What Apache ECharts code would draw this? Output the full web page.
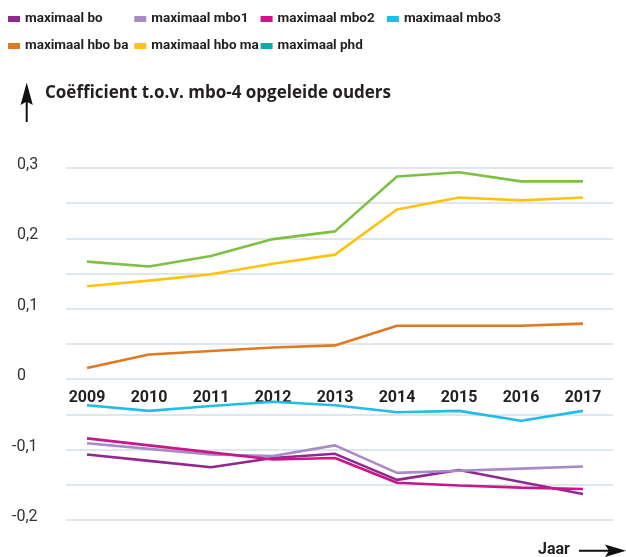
<!DOCTYPE html>
<html>
<head>
<meta charset="utf-8">
<script src="https://cdn.jsdelivr.net/npm/echarts@6/dist/echarts.min.js"></script>
<style>
  html, body { margin: 0; padding: 0; background: #fff; }
  #chart { width: 626px; height: 557px; }
</style>
</head>
<body>
<div id="chart"></div>
<script>
// jaren op de x-as
const years = ["2009", "2010", "2011", "2012", "2013", "2014", "2015", "2016", "2017"];

const maxBo = [-0.107, -0.116, -0.125, -0.112, -0.106, -0.143, -0.129, -0.146, -0.163];
const maxMbo1 = [-0.091, -0.099, -0.107, -0.109, -0.094, -0.133, -0.130, -0.127, -0.124];
const maxMbo2 = [-0.084, -0.094, -0.104, -0.114, -0.112, -0.147, -0.151, -0.154, -0.156];
const maxMbo3 = [-0.037, -0.045, -0.038, -0.032, -0.037, -0.047, -0.045, -0.059, -0.045];
const maxHboBa = [0.016, 0.035, 0.040, 0.045, 0.048, 0.076, 0.076, 0.076, 0.079];
const maxHboMa = [0.132, 0.140, 0.149, 0.164, 0.177, 0.241, 0.258, 0.254, 0.258];
const maxPhd = [0.167, 0.160, 0.175, 0.199, 0.210, 0.288, 0.294, 0.281, 0.281];

const yMin = -0.2;
const yMax = 0.3;

const font = "Roboto, 'Noto Sans', sans-serif";
const wideFont = "'Open Sans', Roboto, sans-serif";
const textColor = "#231f20";

const chart = echarts.init(document.getElementById("chart"));

// naam, data, kleur legenda, kleur lijn
const lines = [
  ["maximaal bo", maxBo, "#92278f", "#92278f"],
  ["maximaal mbo1", maxMbo1, "#a78bc5", "#a78bc5"],
  ["maximaal mbo2", maxMbo2, "#c8168c", "#c8168c"],
  ["maximaal mbo3", maxMbo3, "#22bde6", "#22bde6"],
  ["maximaal hbo ba", maxHboBa, "#e07a22", "#e07a22"],
  ["maximaal hbo ma", maxHboMa, "#ffc20e", "#ffc20e"],
  ["maximaal phd", maxPhd, "#12a9a8", "#7dc142"],
];

const series = lines.map(function (l) {
  return {
    name: l[0],
    type: "line",
    xAxisIndex: 1,
    yAxisIndex: 1,
    symbol: "none",
    smooth: false,
    itemStyle: { color: l[2] },
    lineStyle: { color: l[3], width: 2.6 },
    data: l[1],
  };
});

// legenda in vaste kolommen van ~126px, 4 per rij
const legends = lines.map(function (l, i) {
  return {
    left: 8 + (i % 4) * 126.3,
    top: i < 4 ? 9 : 36,
    padding: 0,
    itemWidth: 12,
    itemHeight: 6,
    icon: "rect",
    selectedMode: false,
    textStyle: {
      fontFamily: font,
      fontWeight: "bold",
      fontSize: 13.5,
      lineHeight: 20,
      color: textColor,
    },
    data: [l[0]],
  };
});

function yLabel(v) {
  if (Math.abs(v * 10 - Math.round(v * 10)) > 1e-6) return "";
  const t = v === 0 ? "0" : v.toFixed(1).replace(".", ",");
  return v < 0 ? "{v|" + t + "}" : "{p|}{v|" + t + "}";
}

chart.setOption({
  animation: false,
  legend: legends,
  grid: [
    // raster voor de hulplijnen
    { left: 66, right: 13, top: 168, bottom: 37 },
    // raster voor de lijnen
    { left: 87, right: 43, top: 168, bottom: 37 },
  ],
  xAxis: [
    {
      gridIndex: 0,
      type: "value",
      min: 0,
      max: 1,
      show: false,
    },
    {
      gridIndex: 1,
      type: "category",
      boundaryGap: false,
      data: years,
      position: "bottom",
      offset: -140.8, // as op hoogte van 0
      axisLine: { show: false, onZero: false },
      axisTick: { show: false },
      splitLine: { show: false },
      axisLabel: {
        margin: 11,
        fontFamily: font,
        fontWeight: "bold",
        fontSize: 16,
        color: textColor,
      },
    },
  ],
  yAxis: [
    {
      gridIndex: 0,
      type: "value",
      min: yMin,
      max: yMax,
      interval: 0.05,
      axisLine: { show: false },
      axisTick: { show: false },
      splitLine: { show: true, lineStyle: { color: "#dfe7ec", width: 2 } },
      axisLabel: {
        align: "left",
        margin: 54,
        padding: [0, 0, 6, 0],
        formatter: yLabel,
        rich: {
          p: { width: 5 },
          v: { fontFamily: font, fontSize: 16, color: "#333" },
        },
      },
    },
    {
      gridIndex: 1,
      type: "value",
      min: yMin,
      max: yMax,
      show: false,
      splitLine: { show: false },
    },
  ],
  graphic: [
    // pijl y-as
    { type: "line", shape: { x1: 26.7, y1: 100, x2: 26.7, y2: 122 }, style: { stroke: "#111", lineWidth: 2 } },
    {
      type: "polygon",
      shape: { points: [[26.7, 82.5], [32.8, 105], [26.7, 101.5], [20.6, 105]] },
      style: { fill: "#111" },
    },
    {
      type: "text",
      style: {
        x: 45,
        y: 93.5,
        verticalAlign: "middle",
        text: "Coëfficient t.o.v. mbo-4 opgeleide ouders",
        font: "bold 17px " + wideFont,
        fill: textColor,
      },
    },
    // pijl x-as
    {
      type: "text",
      style: {
        x: 538,
        y: 550,
        verticalAlign: "middle",
        text: "Jaar",
        font: "bold 16px " + font,
        fill: textColor,
      },
    },
    { type: "line", shape: { x1: 579, y1: 550.7, x2: 612, y2: 550.7 }, style: { stroke: "#111", lineWidth: 2 } },
    {
      type: "polygon",
      shape: { points: [[626, 550.7], [605, 544.5], [609, 550.7], [605, 557]] },
      style: { fill: "#111" },
    },
  ],
  series: series,
});
</script>
</body>
</html>
